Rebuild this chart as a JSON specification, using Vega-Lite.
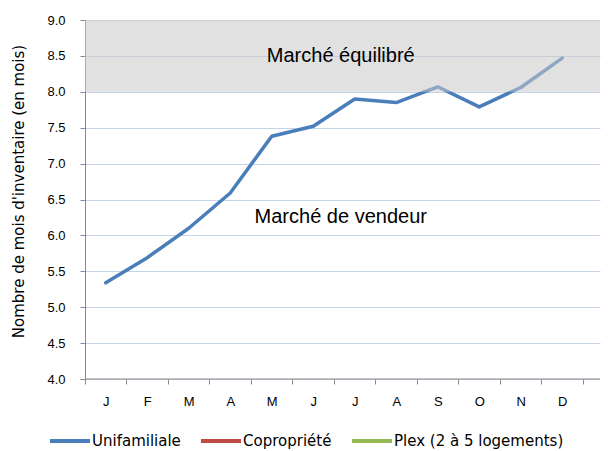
{
  "$schema": "https://vega.github.io/schema/vega-lite/v6.json",
  "width": 515,
  "height": 359,
  "autosize": {"type": "none"},
  "padding": {"left": 85, "top": 20, "right": 8, "bottom": 72},
  "background": "white",
  "config": {"view": {"stroke": null}, "font": "Liberation Sans"},
  "datasets": {
    "series": [
      {"mois": "janvier", "serie": "Unifamiliale", "valeur": 5.34},
      {"mois": "février", "serie": "Unifamiliale", "valeur": 5.69},
      {"mois": "mars", "serie": "Unifamiliale", "valeur": 6.10},
      {"mois": "avril", "serie": "Unifamiliale", "valeur": 6.59},
      {"mois": "mai", "serie": "Unifamiliale", "valeur": 7.38},
      {"mois": "juin", "serie": "Unifamiliale", "valeur": 7.52},
      {"mois": "juillet", "serie": "Unifamiliale", "valeur": 7.90},
      {"mois": "août", "serie": "Unifamiliale", "valeur": 7.85},
      {"mois": "septembre", "serie": "Unifamiliale", "valeur": 8.07},
      {"mois": "octobre", "serie": "Unifamiliale", "valeur": 7.79},
      {"mois": "novembre", "serie": "Unifamiliale", "valeur": 8.06},
      {"mois": "décembre", "serie": "Unifamiliale", "valeur": 8.47}
    ],
    "zones": [{"bas": 8, "haut": 9}],
    "notes": [
      {"mois": "juillet", "val": 8.5, "texte": "Marché équilibré"},
      {"mois": "juillet", "val": 6.25, "texte": "Marché de vendeur"}
    ],
    "base": [{"v": 4}]
  },
  "layer": [
    {
      "data": {"name": "series"},
      "mark": {"type": "line", "strokeWidth": 3.5, "strokeCap": "round", "strokeJoin": "round"},
      "encoding": {
        "x": {
          "field": "mois", "type": "ordinal", "bandPosition": 0.5,
          "sort": ["janvier", "février", "mars", "avril", "mai", "juin", "juillet", "août", "septembre", "octobre", "novembre", "décembre"],
          "scale": {"type": "band", "paddingInner": 0, "paddingOuter": 0.205, "align": 0},
          "axis": {
            "title": null, "domain": false, "grid": false, "ticks": true, "tickBand": "extent",
            "tickColor": "#898989", "tickSize": 5, "labelAngle": 0, "labelPadding": 11,
            "labelFontSize": 13, "labelColor": "#000000", "labelFont": "Liberation Sans",
            "labelExpr": "upper(substring(datum.label, 0, 1))"
          }
        },
        "y": {
          "field": "valeur", "type": "quantitative",
          "scale": {"domain": [4, 9], "nice": false, "zero": false},
          "axis": {
            "title": "Nombre de mois d'inventaire (en mois)",
            "titleFont": "DejaVu Sans", "titleFontSize": 15, "titleFontWeight": "normal", "titleColor": "#000000",
            "titleAngle": -90, "titleX": -67, "titleY": 171, "titleAlign": "center", "titleBaseline": "middle",
            "values": [4, 4.5, 5, 5.5, 6, 6.5, 7, 7.5, 8, 8.5, 9], "tickCount": 11, "format": ".1f", "labelOverlap": false,
            "domainColor": "#898989", "tickColor": "#898989", "tickSize": 5, "labelPadding": 15,
            "labelFontSize": 13, "labelColor": "#000000", "labelFont": "Liberation Sans",
            "grid": true, "gridColor": "#c6d4ea", "gridWidth": 1
          }
        },
        "color": {
          "field": "serie", "type": "nominal",
          "scale": {"domain": ["Unifamiliale", "Copropriété", "Plex (2 à 5 logements)"], "range": ["#4a7ebb", "#be4b48", "#98b954"]},
          "legend": {
            "orient": "none", "legendX": -37, "legendY": 399, "direction": "horizontal", "title": null,
            "symbolType": "stroke", "symbolSize": 1600, "symbolStrokeWidth": 4,
            "labelFont": "DejaVu Sans", "labelFontSize": 15, "labelColor": "#000000", "labelOffset": 0,
            "labelLimit": 400, "columnPadding": 12
          }
        }
      }
    },
    {
      "data": {"name": "zones"},
      "mark": {"type": "rect", "color": "#c8c8c8", "opacity": 0.55},
      "encoding": {
        "y": {"field": "bas", "type": "quantitative", "axis": {"values": [4, 4.5, 5, 5.5, 6, 6.5, 7, 7.5, 8, 8.5, 9], "tickCount": 11, "labelOverlap": false}},
        "y2": {"field": "haut"}
      }
    },
    {
      "data": {"name": "base"},
      "mark": {"type": "rule", "color": "#898989", "strokeWidth": 1},
      "encoding": {"y": {"field": "v", "type": "quantitative", "axis": {"values": [4, 4.5, 5, 5.5, 6, 6.5, 7, 7.5, 8, 8.5, 9], "tickCount": 11, "labelOverlap": false}}}
    },
    {
      "data": {"name": "notes"},
      "mark": {"type": "text", "fontSize": 20, "dx": -14, "font": "Liberation Sans", "color": "#000000", "baseline": "middle", "align": "center"},
      "encoding": {
        "x": {"field": "mois", "type": "ordinal", "bandPosition": 0.5,
          "sort": ["janvier", "février", "mars", "avril", "mai", "juin", "juillet", "août", "septembre", "octobre", "novembre", "décembre"]},
        "y": {"field": "val", "type": "quantitative", "axis": {"values": [4, 4.5, 5, 5.5, 6, 6.5, 7, 7.5, 8, 8.5, 9], "tickCount": 11, "labelOverlap": false}},
        "text": {"field": "texte"}
      }
    }
  ]
}
